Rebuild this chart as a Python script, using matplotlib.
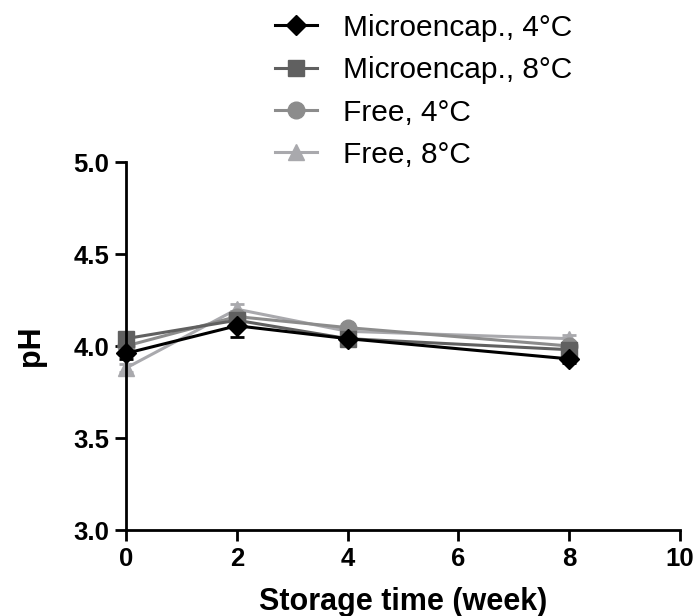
import matplotlib
matplotlib.use('Agg')
import matplotlib.pyplot as plt

plt.rcParams['font.family'] = ['Liberation Sans', 'DejaVu Sans']

weeks = [0, 2, 4, 8]
micro_4c = [3.96, 4.11, 4.04, 3.93]
micro_4c_err = [0.03, 0.06, 0.02, 0.02]
micro_8c = [4.04, 4.14, 4.04, 3.98]
micro_8c_err = [0.03, 0.03, 0.02, 0.02]
free_4c = [4.00, 4.16, 4.10, 4.00]
free_4c_err = [0.02, 0.03, 0.02, 0.02]
free_8c = [3.88, 4.20, 4.08, 4.04]
free_8c_err = [0.02, 0.03, 0.02, 0.02]

series = [
    ('Microencap., 4°C', micro_4c, micro_4c_err, 'black', 'D', 10),
    ('Microencap., 8°C', micro_8c, micro_8c_err, '#606060', 's', 11),
    ('Free, 4°C', free_4c, free_4c_err, '#8c8c8c', 'o', 12),
    ('Free, 8°C', free_8c, free_8c_err, '#a9a9ad', '^', 12),
]

fig = plt.figure(figsize=(6.96, 6.16), dpi=100)
ax = fig.add_axes([0.181, 0.1396, 0.796, 0.5974])

# draw lightest first so black ends on top
for label, vals, err, color, marker, ms in reversed(series):
    ax.errorbar(weeks, vals, yerr=err, color=color, marker=marker, markersize=ms,
                linewidth=2.2, elinewidth=2, capsize=5, capthick=2, label=label,
                clip_on=False)

ax.set_xlim(0, 10)
ax.set_ylim(3.0, 5.0)
ax.set_xticks([0, 2, 4, 6, 8, 10])
ax.set_yticks([3.0, 3.5, 4.0, 4.5, 5.0])
ax.set_yticklabels(['3.0', '3.5', '4.0', '4.5', '5.0'])
for s in ['top', 'right']:
    ax.spines[s].set_visible(False)
for s in ['left', 'bottom']:
    ax.spines[s].set_linewidth(2)
ax.tick_params(width=2, length=8, labelsize=18.5, direction='out', pad=4)
for lbl in ax.get_xticklabels() + ax.get_yticklabels():
    lbl.set_fontweight('bold')

ax.set_xlabel('Storage time (week)', fontsize=22, fontweight='bold', labelpad=12)
ax.set_ylabel('pH', fontsize=22, fontweight='bold', labelpad=20)

handles, labels = ax.get_legend_handles_labels()
handles = [h[0] for h in handles[::-1]]
labels = labels[::-1]
leg = fig.legend(handles, labels, loc='upper left', bbox_to_anchor=(0.357, 1.021),
                 frameon=False, fontsize=21.5, handlelength=1.4, handletextpad=0.85,
                 labelspacing=0.48, markerscale=1.0)

fig.savefig('out.png', dpi=100)
